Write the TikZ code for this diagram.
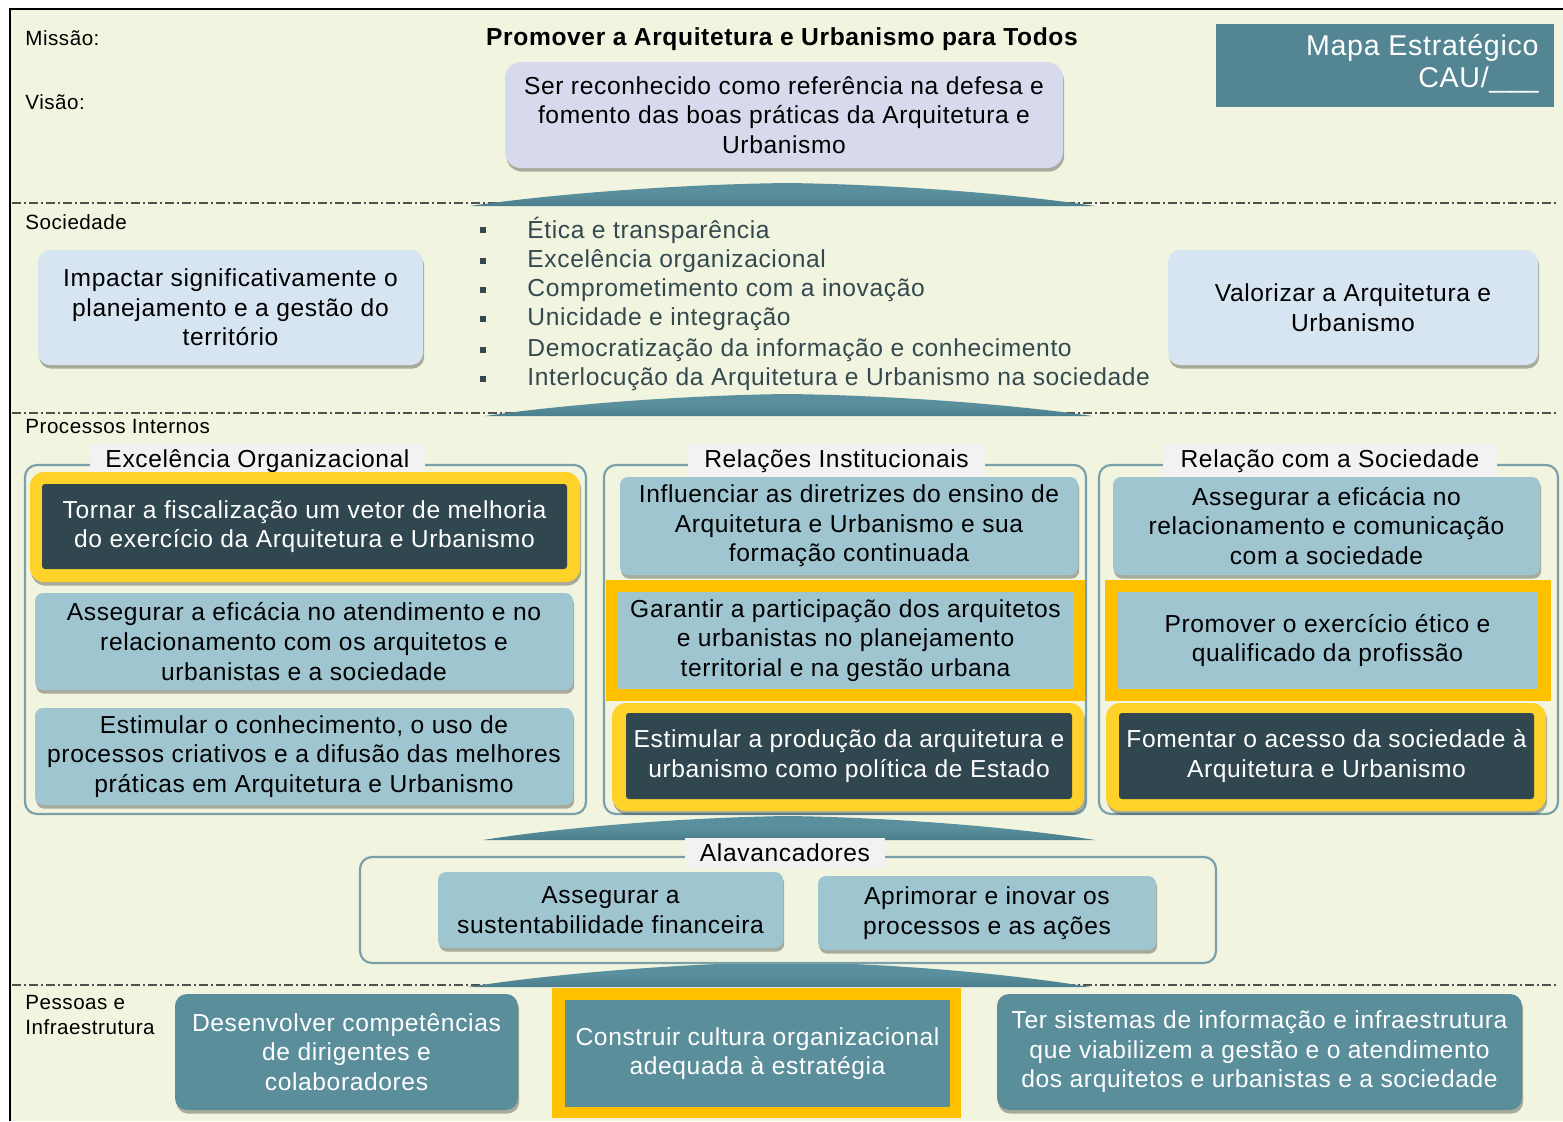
\documentclass[tikz,border=0pt]{standalone}
\usepackage{fontspec}
\setmainfont{Liberation Sans}[LetterSpace=2.5]
\usetikzlibrary{shadows}
\definecolor{bg}{HTML}{F1F4DF}
\definecolor{lblue}{HTML}{9FC5D1}
\definecolor{pblue}{HTML}{D7E5F2}
\definecolor{lav}{HTML}{D7D9EC}
\definecolor{darkb}{HTML}{30474F}
\definecolor{tealb}{HTML}{5A8E9B}
\definecolor{wedgec}{HTML}{5A8F9D}
\definecolor{wedged}{HTML}{4A7D8D}
\definecolor{mapac}{HTML}{538592}
\definecolor{goldc}{HTML}{FFC000}
\definecolor{glowc}{HTML}{FFD22A}
\definecolor{framec}{HTML}{7AA0AA}
\definecolor{patchc}{HTML}{F2F2F2}
\definecolor{valc}{HTML}{34494F}
\definecolor{divc}{HTML}{505050}
\newcommand{\bx}[7]{\node[#2, minimum width={(#5-(#3))*0.5pt}, minimum height={(#6-(#4))*0.5pt}] (#1) at ({(#3+#5)/2},{(#4+#6)/2}) {#7};}
\newcommand{\wedgeshape}[5]{% x1 x2 apexx apexy basey
  \shade[top color=wedgec, bottom color=wedged, middle color=wedgec]
   (#1,#5) .. controls ({#1+0.3*(#3-#1)},{#5-0.6*(#5-#4)}) and ({#3-0.3*(#3-#1)},{#4+0.05*(#5-#4)}) .. (#3,#4)
   .. controls ({#3+0.3*(#2-#3)},{#4+0.05*(#5-#4)}) and ({#2-0.3*(#2-#3)},{#5-0.6*(#5-#4)}) .. (#2,#5) -- cycle;}
\begin{document}
\begin{tikzpicture}[x=0.5pt,y=-0.5pt,
  base/.style={inner sep=0pt, outer sep=0pt, align=center, font=\fontsize{12.3}{14.8}\selectfont},
  shd/.style={drop shadow={shadow xshift=0.6pt, shadow yshift=-1.8pt, opacity=0.3, fill=black}},
  lbox/.style={base, fill=lblue, rounded corners=4pt, shd},
  lflat/.style={base, fill=lblue},
  pbox/.style={base, fill=pblue, rounded corners=6pt, shd},
  vbox/.style={base, fill=lav, rounded corners=8pt, shd},
  dbox/.style={base, fill=darkb, text=white, rounded corners=1.5pt},
  tbox/.style={base, fill=tealb, text=white, rounded corners=6pt, shd},
  tflat/.style={base, fill=tealb, text=white},
  glowbox/.style={base, fill=glowc, rounded corners=7pt, shd},
  goldrect/.style={base, fill=goldc},
  grp/.style={base, draw=framec, line width=1.1pt, rounded corners=6pt},
  patchst/.style={base, fill=patchc},
  lbl/.style={inner sep=0pt, anchor=west, align=left, font=\fontsize{10.3}{12.5}\selectfont},
  vtxt/.style={inner sep=0pt, anchor=west, text=valc, font=\fontsize{12.3}{14.8}\selectfont},
  bul/.style={fill=valc, inner sep=0pt, minimum size=3.3pt},
  divider/.style={draw=divc, line width=0.9pt, dash pattern=on 4.5pt off 1.5pt on 1pt off 1.5pt}
]
\useasboundingbox (0,0) rectangle (1563,1121);
\fill[white] (0,0) rectangle (1563,1121);
\fill[bg] (10,9) rectangle (1563,1121);
\draw[black, line width=1.2pt] (10,1121) -- (10,9) -- (1563,9);

% dividers
\draw[divider] (12,203) -- (1558,203);
\draw[divider] (12,413) -- (1558,413);
\draw[divider] (12,985) -- (1558,985);

% wedges
\wedgeshape{470}{1095}{787}{183}{206}
\wedgeshape{485}{1092}{787}{394}{416}
\wedgeshape{483}{1095}{788}{816}{840}
\wedgeshape{468}{1090}{788}{962}{987}

% top section
\node[lbl] (missao) at (25,38) {Missão:};
\node[lbl] (visaolbl) at (25,102) {Visão:};
\node[inner sep=0pt, font=\bfseries\fontsize{12.3}{14.8}\selectfont] (titulo) at (782,39) {Promover a Arquitetura e Urbanismo para Todos};
\bx{visao}{vbox}{505}{62}{1063}{168}{Ser reconhecido como referência na defesa e\\fomento das boas práticas da Arquitetura e\\Urbanismo}
\bx{mapa}{base, fill=mapac}{1216}{24}{1554}{107}{}
\node[inner sep=0pt, anchor=east, align=right, text=white, font=\fontsize{14.3}{16}\selectfont] (mapatxt) at (1539,64) {Mapa Estratégico\\CAU/\_\_\_};

% Sociedade
\node[lbl] (soc) at (25,222) {Sociedade};
\bx{impactar}{pbox}{38}{250}{423}{365}{Impactar significativamente o\\planejamento e a gestão do\\território}
\bx{valorizar}{pbox}{1168}{250}{1538}{365}{Valorizar a Arquitetura e\\Urbanismo}
\foreach \yy/\tt [count=\i] in {230/{Ética e transparência},261/{Excelência organizacional},290/{Comprometimento com a inovação},319/{Unicidade e integração},350/{Democratização da informação e conhecimento},379/{Interlocução da Arquitetura e Urbanismo na sociedade}}{
  \node[bul] (b\i) at (483,\yy) {};
  \node[vtxt] (v\i) at (527,\yy) {\tt};
}

% Processos Internos
\node[lbl] (proc) at (25,427) {Processos Internos};
% group 1
\bx{g1}{grp}{25}{465}{586}{814}{}
\bx{g1p}{patchst}{90}{444}{425}{478}{Excelência Organizacional}
\bx{e1g}{glowbox}{30}{472}{580}{582}{}
\bx{e1}{dbox}{42}{484}{567}{569}{Tornar a fiscalização um vetor de melhoria\\do exercício da Arquitetura e Urbanismo}
\bx{e2}{lbox}{35}{593}{573}{690}{Assegurar a eficácia no atendimento e no\\relacionamento com os arquitetos e\\urbanistas e a sociedade}
\bx{e3}{lbox}{35}{708}{573}{805}{Estimular o conhecimento, o uso de\\processos criativos e a difusão das melhores\\práticas em Arquitetura e Urbanismo}
% group 2
\bx{g2}{grp}{604}{465}{1086}{814}{}
\bx{g2p}{patchst}{688}{444}{985}{478}{Relações Institucionais}
\bx{r1}{lbox}{620}{477}{1078}{575}{Influenciar as diretrizes do ensino de\\Arquitetura e Urbanismo e sua\\formação continuada}
\bx{r2g}{goldrect}{606}{580}{1085}{701}{}
\bx{r2}{lflat}{618}{592}{1073}{689}{Garantir a participação dos arquitetos\\e urbanistas no planejamento\\territorial e na gestão urbana}
\bx{r3g}{glowbox}{612}{703}{1084}{811}{}
\bx{r3}{dbox}{626}{713}{1072}{799}{Estimular a produção da arquitetura e\\urbanismo como política de Estado}
% group 3
\bx{g3}{grp}{1099}{465}{1558}{814}{}
\bx{g3p}{patchst}{1163}{444}{1497}{478}{Relação com a Sociedade}
\bx{s1}{lbox}{1113}{477}{1540}{575}{Assegurar a eficácia no\\relacionamento e comunicação\\com a sociedade}
\bx{s2g}{goldrect}{1105}{580}{1551}{701}{}
\bx{s2}{lflat}{1117}{592}{1538}{689}{Promover o exercício ético e\\qualificado da profissão}
\bx{s3g}{glowbox}{1106}{703}{1546}{811}{}
\bx{s3}{dbox}{1119}{713}{1534}{799}{Fomentar o acesso da sociedade à\\Arquitetura e Urbanismo}

% Alavancadores
\bx{alav}{grp}{360}{857}{1216}{963}{}
\bx{alavp}{patchst}{685}{838}{885}{868}{Alavancadores}
\bx{a1}{lbox}{438}{872}{783}{948}{Assegurar a\\sustentabilidade financeira}
\bx{a2}{lbox}{818}{876}{1156}{950}{Aprimorar e inovar os\\processos e as ações}

% Pessoas e Infraestrutura
\node[lbl] (pessoas) at (25,1015) {Pessoas e\\Infraestrutura};
\bx{p1}{tbox}{175}{994}{518}{1110}{Desenvolver competências\\de dirigentes e\\colaboradores}
\bx{p2g}{goldrect}{552}{988}{961}{1118}{}
\bx{p2}{tflat}{565}{1000}{950}{1107}{Construir cultura organizacional\\adequada à estratégia}
\bx{p3}{tbox}{997}{994}{1522}{1110}{Ter sistemas de informação e infraestrutura\\que viabilizem a gestão e o atendimento\\dos arquitetos e urbanistas e a sociedade}
\end{tikzpicture}
\end{document}
